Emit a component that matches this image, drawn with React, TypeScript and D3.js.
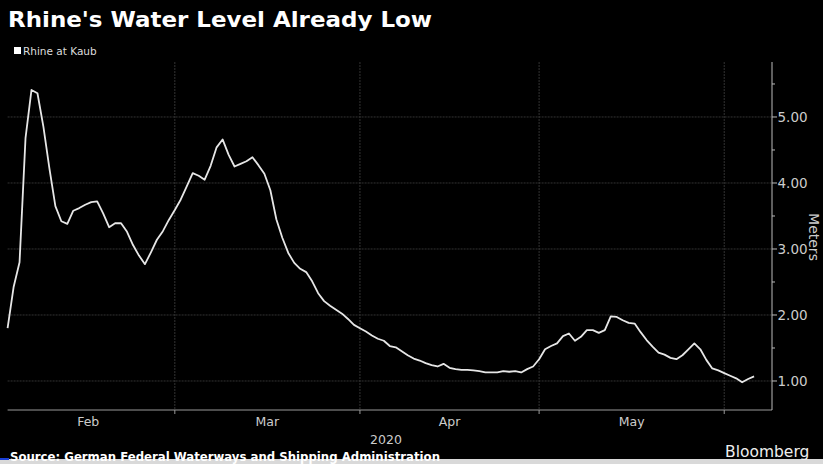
import React from "react";
import * as d3 from "d3";

// Rhine at Kaub, daily gauge in meters, starting 2 Feb 2020
const startDate = "2020-02-02";
const febLevels = [1.8, 2.42, 2.8, 4.68, 5.41, 5.36, 4.85, 4.22, 3.65, 3.42, 3.38, 3.58, 3.62, 3.67, 3.71, 3.72, 3.54, 3.33, 3.39, 3.39, 3.26, 3.06, 2.9, 2.77, 2.95, 3.14, 3.27, 3.44];
const marLevels = [3.59, 3.75, 3.95, 4.15, 4.11, 4.05, 4.26, 4.54, 4.66, 4.43, 4.25, 4.29, 4.33, 4.39, 4.27, 4.14, 3.89, 3.45, 3.17, 2.94, 2.79, 2.7, 2.65, 2.51, 2.33, 2.21, 2.14, 2.08, 2.02, 1.94, 1.85];
const aprLevels = [1.8, 1.75, 1.69, 1.64, 1.61, 1.53, 1.51, 1.45, 1.39, 1.34, 1.31, 1.27, 1.24, 1.22, 1.26, 1.2, 1.18, 1.17, 1.17, 1.16, 1.15, 1.13, 1.13, 1.13, 1.15, 1.14, 1.15, 1.13, 1.18, 1.22];
const mayLevels = [1.33, 1.48, 1.53, 1.57, 1.68, 1.72, 1.61, 1.67, 1.77, 1.77, 1.73, 1.77, 1.98, 1.97, 1.92, 1.88, 1.87, 1.74, 1.62, 1.52, 1.43, 1.4, 1.35, 1.33, 1.39, 1.48, 1.57, 1.48, 1.32, 1.19, 1.16];
const junLevels = [1.12, 1.08, 1.04, 0.98, 1.03, 1.07];

const majorTicks = [1, 2, 3, 4, 5];
const minorTicks = [1.5, 2.5, 3.5, 4.5, 5.5];
const monthLabels = ["Feb", "Mar", "Apr", "May"];

const W = 823;
const H = 464;
const plot = { left: 7.6, right: 772, top: 62, bottom: 410 };

const App = () => {
  const t0 = new Date(startDate + "T00:00:00Z");
  const levels = [...febLevels, ...marLevels, ...aprLevels, ...mayLevels, ...junLevels];
  const data = levels.map((v, i) => ({ date: d3.utcDay.offset(t0, i), value: v }));

  const x = d3
    .scaleUtc()
    .domain([t0, new Date("2020-06-09T00:00:00Z")])
    .range([plot.left, plot.right]);
  const y = d3.scaleLinear().domain([0.5606, 5.833]).range([plot.bottom, plot.top]);

  const line = d3
    .line<{ date: Date; value: number }>()
    .x((d) => x(d.date))
    .y((d) => y(d.value));

  const monthStarts = d3.utcMonth.range(new Date("2020-02-01T00:00:00Z"), new Date("2020-06-02T00:00:00Z"));
  const gridMonths = monthStarts.filter((m) => x(m) > plot.left + 2);
  const fmt = d3.format(".2f");
  const font = "'DejaVu Sans', Verdana, sans-serif";

  return (
    <svg
      width={W}
      height={H}
      style={{ position: "absolute", left: 0, top: 0, background: "#000" }}
      fontFamily={font}
    >
      <rect x={0} y={0} width={W} height={H} fill="#000" />

      {/* title + legend */}
      <text x={8} y={27} fill="#fff" fontSize={22} fontWeight="bold" textLength={424} lengthAdjust="spacingAndGlyphs">
        Rhine's Water Level Already Low
      </text>
      <rect x={14} y={47} width={7} height={7} fill="#fff" />
      <text x={23} y={54.5} fill="#ddd" fontSize={10.5}>
        Rhine at Kaub
      </text>

      {/* grid */}
      <g stroke="#333" strokeWidth={1} strokeDasharray="2,1">
        {majorTicks.map((t) => (
          <line key={"h" + t} x1={plot.left} x2={plot.right} y1={y(t)} y2={y(t)} />
        ))}
        {gridMonths.map((m, i) => (
          <line key={"v" + i} x1={x(m)} x2={x(m)} y1={plot.top} y2={plot.bottom} />
        ))}
      </g>

      {/* axes */}
      <line x1={plot.left} x2={plot.right} y1={plot.bottom} y2={plot.bottom} stroke="#999" />
      <line x1={plot.right} x2={plot.right} y1={plot.top} y2={plot.bottom} stroke="#bbb" />
      {gridMonths.map((m, i) => (
        <line key={"xt" + i} x1={x(m)} x2={x(m)} y1={plot.bottom} y2={plot.bottom + 4} stroke="#999" />
      ))}
      {majorTicks.map((t) => (
        <g key={"yt" + t}>
          <line x1={plot.right} x2={plot.right + 5} y1={y(t)} y2={y(t)} stroke="#bbb" />
          <text x={plot.right + 5.5} y={y(t) + 5} fill="#ccc" fontSize={13.5}>
            {fmt(t)}
          </text>
        </g>
      ))}
      {minorTicks.map((t) => (
        <line key={"ym" + t} x1={plot.right} x2={plot.right + 3} y1={y(t)} y2={y(t)} stroke="#bbb" />
      ))}
      <text
        transform={`translate(809, 237) rotate(90)`}
        textAnchor="middle"
        fill="#ccc"
        fontSize={14}
      >
        Meters
      </text>

      {monthLabels.map((lab, i) => {
        const a = monthStarts[i];
        const b = d3.utcMonth.offset(a, 1);
        return (
          <text key={lab} x={(x(a) + x(b)) / 2} y={426} textAnchor="middle" fill="#ccc" fontSize={12.5}>
            {lab}
          </text>
        );
      })}
      <text x={386} y={444} textAnchor="middle" fill="#ccc" fontSize={12.5}>
        2020
      </text>

      {/* series */}
      <path d={line(data) || ""} fill="none" stroke="#e6e6e6" strokeWidth={1.8} strokeLinejoin="round" />

      {/* footer */}
      <rect x={0} y={459} width={W} height={5} fill="#d9d9d9" />
      <rect x={0} y={458} width={9} height={2} fill="#1a3fd6" />
      <text x={10} y={461} fill="#fff" fontSize={11.5} fontWeight="bold" textLength={430} lengthAdjust="spacingAndGlyphs">
        Source:  German Federal Waterways and Shipping Administration
      </text>
      <text x={725} y={457} fill="#eee" fontSize={15.5}>
        Bloomberg
      </text>
    </svg>
  );
};

export default App;
